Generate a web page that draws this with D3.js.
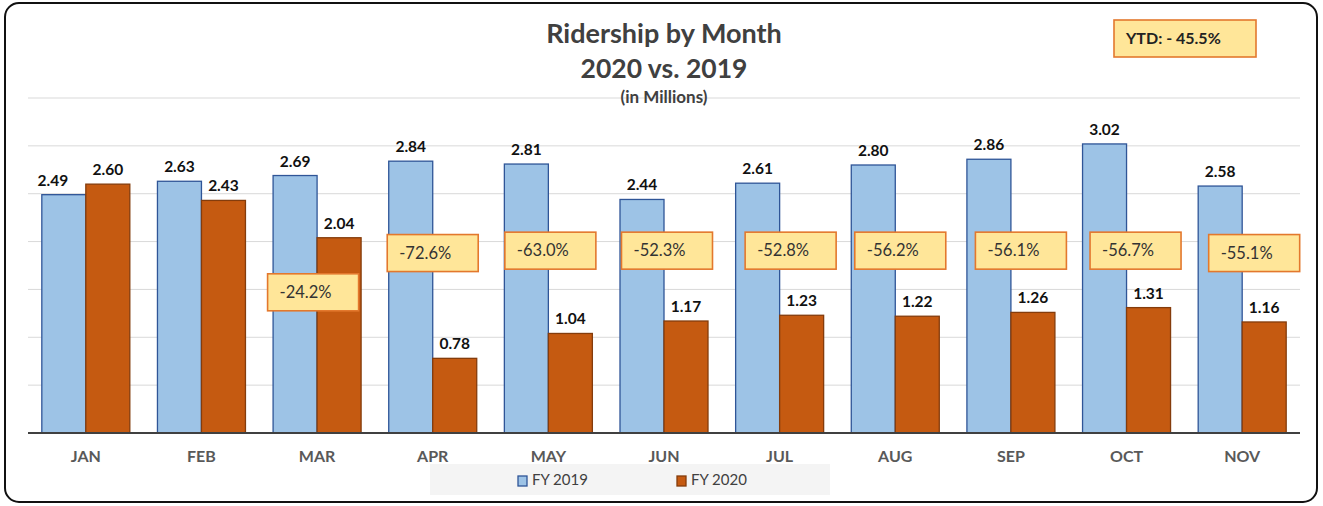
<!DOCTYPE html>
<html><head><meta charset="utf-8">
<script src="https://cdn.jsdelivr.net/npm/d3@7"></script>
<style>body{margin:0;background:#fff;font-family:Lato,"Open Sans",sans-serif;}</style>
</head><body><svg id="c" width="1323" height="506"></svg>
<script>
const months = ["JAN","FEB","MAR","APR","MAY","JUN","JUL","AUG","SEP","OCT","NOV"];
const fy2019 = [2.49,2.63,2.69,2.84,2.81,2.44,2.61,2.80,2.86,3.02,2.58];
const fy2020 = [2.60,2.43,2.04,0.78,1.04,1.17,1.23,1.22,1.26,1.31,1.16];
const pctChange = ["","","-24.2%","-72.6%","-63.0%","-52.3%","-52.8%","-56.2%","-56.1%","-56.7%","-55.1%"];
const yTicks = [0,0.5,1,1.5,2,2.5,3,3.5];
const seriesNames = ["FY 2019","FY 2020"];
const ytdText = "YTD: - 45.5%";

(function(){
const svg = d3.select("#c");
const pl = 28, pr = 1300, pt = 98, pb = 433;
const x = d3.scaleBand().domain(months).range([pl, pr]).paddingInner(0).paddingOuter(0);
const y = d3.scaleLinear().domain([0,3.5]).range([pb, pt]);

svg.append("rect").attr("x",5).attr("y",3).attr("width",1312).attr("height",499)
  .attr("rx",14).attr("fill","#fff").attr("stroke","#111").attr("stroke-width",2);

svg.append("g").selectAll("line").data(yTicks.filter(d=>d>0)).join("line")
  .attr("x1",pl).attr("x2",pr).attr("y1",d=>y(d)).attr("y2",d=>y(d))
  .attr("stroke","#d9d9d9").attr("stroke-width",1);

const title = svg.append("g").attr("fill","#404040").attr("text-anchor","middle").attr("font-weight","bold");
title.append("text").attr("x",664).attr("y",43).attr("font-size",27).text("Ridership by Month");
title.append("text").attr("x",664).attr("y",78).attr("font-size",26.5).text("2020 vs. 2019");
title.append("text").attr("x",664).attr("y",103).attr("font-size",17).text("(in Millions)");

const barW = 44;
const blue = {fill:"#9dc3e6", stroke:"#2f5597"};
const orange = {fill:"#c55a11", stroke:"#843c0c"};
// label nudge for the JAN 2019 label (it sits left of its bar in the original)
const labelShift = (i,j) => (i===0 && j===0) ? -11 : 0;
months.forEach((m,i)=>{
  const cx = x(m) + x.bandwidth()/2;
  const vals = [fy2019[i], fy2020[i]];
  const cols = [blue, orange];
  vals.forEach((v,j)=>{
    const bx = j===0 ? cx - barW : cx;
    svg.append("rect").attr("x",bx).attr("y",y(v)).attr("width",barW).attr("height",y(0)-y(v))
      .attr("fill",cols[j].fill).attr("stroke",cols[j].stroke).attr("stroke-width",1.3);
    svg.append("text").attr("x",bx+barW/2+labelShift(i,j)).attr("y",y(v)-9).attr("text-anchor","middle")
      .attr("font-size",15.5).attr("font-weight","bold").attr("fill","#111").text(v.toFixed(2));
  });
});

svg.append("line").attr("x1",pl).attr("x2",pr).attr("y1",y(0)).attr("y2",y(0))
  .attr("stroke","#404040").attr("stroke-width",2);

const ax = svg.append("g").attr("transform",`translate(0,${y(0)})`)
  .call(d3.axisBottom(x).tickSize(0).tickPadding(18));
ax.select(".domain").remove();
ax.selectAll("text").attr("font-size",16).attr("font-weight","bold").attr("fill","#595959")
  .attr("font-family","Lato,sans-serif");

// annotation box placement (pixel nudges from band centre, and y level in data units)
const boxDx = [0,0,-4,0,2,3,11,5,10,9,12];
const boxW = 91, boxH = 37;
pctChange.forEach((p,i)=>{
  if(!p) return;
  const cx = x(months[i]) + x.bandwidth()/2 + boxDx[i];
  const cy = i===2 ? y(1.47) : (i===3 || i===10 ? y(1.88) : y(1.905));
  const g = svg.append("g");
  g.append("rect").attr("x",cx-boxW/2).attr("y",cy-boxH/2).attr("width",boxW).attr("height",boxH)
    .attr("fill","#ffe699").attr("stroke","#e3782d").attr("stroke-width",1.6);
  g.append("text").attr("x",cx-boxW/2+12).attr("y",cy+5.5).attr("font-size",16.5).attr("fill","#333").text(p);
});

svg.append("rect").attr("x",1114).attr("y",20).attr("width",142).attr("height",37)
  .attr("fill","#ffe699").attr("stroke","#e3782d").attr("stroke-width",1.6);
svg.append("text").attr("x",1126).attr("y",44).attr("font-size",16).attr("font-weight","bold")
  .attr("fill","#222").text(ytdText);

svg.append("rect").attr("x",430).attr("y",464).attr("width",400).attr("height",31).attr("fill","#f4f4f4");
const lx = [518, 677];
seriesNames.forEach((s,j)=>{
  const c = j===0 ? blue : orange;
  svg.append("rect").attr("x",lx[j]).attr("y",476).attr("width",9).attr("height",10)
    .attr("fill",c.fill).attr("stroke",c.stroke).attr("stroke-width",1.3);
  svg.append("text").attr("x",lx[j]+14).attr("y",485).attr("font-size",15).attr("fill","#404040").text(s);
});
})();
</script></body></html>
